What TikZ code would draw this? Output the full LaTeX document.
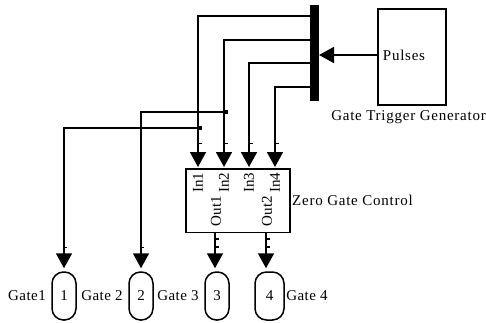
\documentclass[tikz,border=0pt]{standalone}
\usepackage{fontspec}
\setmainfont{Liberation Serif}
\newfontfamily\widefont[LetterSpace=5]{Liberation Serif}
\newfontfamily\gatefont[LetterSpace=3]{Liberation Serif}
\usetikzlibrary{arrows.meta,positioning}

\begin{document}
\begin{tikzpicture}[
            x=1pt,y=-1pt,
            blk/.style={draw,rectangle,line width=1.5pt,inner sep=0pt},
            gate/.style={blk,minimum width=24pt,minimum height=48pt,rounded corners=11.5pt,font=\fontsize{15}{15}\selectfont},
            bar/.style={fill=black,rectangle,inner sep=0pt,minimum width=9pt,minimum height=96pt},
            lab/.style={inner sep=0pt,font=\fontsize{15}{15}\selectfont},
            wide/.style={lab,font=\fontsize{15}{15}\widefont},
            gatelab/.style={lab,font=\fontsize{15}{15}\gatefont},
            port/.style={lab,rotate=90},
            dot/.style={fill=black,rectangle,inner sep=0pt,minimum size=4pt},
            tick/.style={fill=black,rectangle,inner sep=0pt,minimum width=4pt,minimum height=1.3pt},
            wire/.style={draw,line width=1.8pt},
            sig/.style={wire,-{Triangle[length=15pt,width=16pt]}}
          ]
          \useasboundingbox (0,0) rectangle (486,323);

          \node[bar] (mux) at (314.5,53) {};
          \node[blk,minimum width=68pt,minimum height=96pt] (pulse) at (412,57) {};
          \node[blk,minimum width=104pt,minimum height=63.5pt] (zero) at (238,200.5) {};
          \node[gate] (g1) at (64,296) {1};
          \node[gate] (g2) at (141,296) {2};
          \node[gate] (g3) at (217,296) {3};
          \node[gate,minimum width=29pt] (g4) at (269.5,296) {4};

          %labels
          \node[wide] (pulsetxt) at (404,55.5) {Pulses};
          \node[wide] (trig) at (408.5,117.5) {Gate Trigger Generator};
          \node[wide,anchor=west] (zerotxt) at (292,200) {Zero Gate Control};
          \node[port] (i1) at (198,182.5) {In1};
          \node[port] (i2) at (224,182.5) {In2};
          \node[port] (i3) at (249,182.5) {In3};
          \node[port] (i4) at (275,182.5) {In4};
          \node[port] (o1) at (216,211) {Out1};
          \node[port] (o2) at (267,211) {Out2};
          \node[gatelab] (l1) at (27,296) {Gate1};
          \node[gatelab] (l2) at (102,296) {Gate 2};
          \node[gatelab] (l3) at (178,296) {Gate 3};
          \node[gatelab] (l4) at (307,296) {Gate 4};

          %ports
          \coordinate (b1) at (310,16);
          \coordinate (b2) at (310,40);
          \coordinate (b3) at (310,63);
          \coordinate (b4) at (310,87);
          \coordinate (z1) at (198,167);
          \coordinate (z2) at (224,167);
          \coordinate (z3) at (249,167);
          \coordinate (z4) at (275,167);
          \coordinate (y1) at (215,232);
          \coordinate (y2) at (266,232);
          \coordinate (p0) at (378,55);
          \coordinate (m0) at (319,55);

          %junctions
          \node[dot] (j1) at (200,128) {};
          \node[dot] (j2) at (226,112) {};

          %ticks
          \node[tick] (t1) at (303,16) {};
          \node[tick] (t2) at (303,40) {};
          \node[tick] (t3) at (303,63) {};
          \node[tick] (t4) at (303,87) {};
          \node[tick] (t5) at (343,55.5) {};
          \node[tick] (t6) at (370,55.5) {};
          \node[tick] (t7) at (200,143.5) {};
          \node[tick] (t8) at (226,143.5) {};
          \node[tick] (t9) at (251,143.5) {};
          \node[tick] (t10) at (277,143.5) {};
          \node[tick] (t11) at (217,239) {};
          \node[tick] (t12) at (217,247) {};
          \node[tick] (t13) at (268,239) {};
          \node[tick] (t14) at (268,247) {};
          \node[tick] (t15) at (65,247.5) {};
          \node[tick] (t16) at (142,247.5) {};

          %connections
          \path[sig] (b1) -| (z1);
          \path[sig] (b2) -| (z2);
          \path[sig] (b3) -| (z3);
          \path[sig] (b4) -| (z4);
          \path[sig] (p0) -- (m0);
          \path[sig,shorten >=3pt] (y1) -- (y1 |- g3.north);
          \path[sig,shorten >=3pt] (y2) -- (y2 |- g4.north);
          \path[sig,shorten >=3pt] (j1) -| (g1.north);
          \path[sig,shorten >=3pt] (j2) -| (g2.north);
      \end{tikzpicture}
\end{document}
